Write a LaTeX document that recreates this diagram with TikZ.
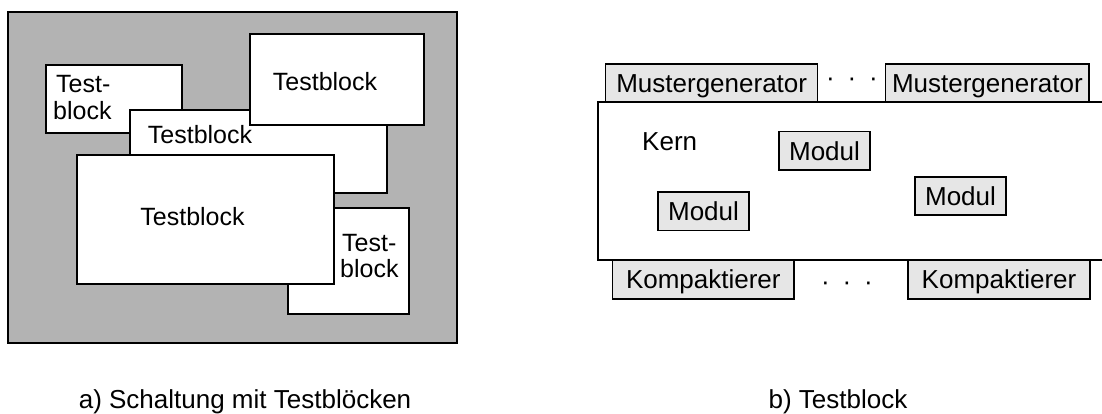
\documentclass[tikz,border=0pt]{standalone}
\usepackage{fontspec}
\setmainfont{Liberation Sans}
\definecolor{boardgray}{RGB}{179,179,179}
\definecolor{unitgray}{RGB}{230,230,230}
\begin{document}
\begin{tikzpicture}[x=1pt,y=-1pt,
  frame/.style={draw=black, line width=1.4pt, inner sep=0pt},
  blockbox/.style={frame, fill=white},
  unitbox/.style={frame, fill=unitgray, font=\fontsize{26}{28}\selectfont,
                  text height=18.5pt, text depth=0pt},
  lbl/.style={inner sep=0pt, font=\fontsize{25}{27}\selectfont},
  rlbl/.style={inner sep=0pt, font=\fontsize{26}{28}\selectfont}]
\useasboundingbox (0,0) rectangle (1102,413);
\clip (0,0) rectangle (1102,413);

% ---- a) board with overlapping test blocks ----
\node[frame, fill=boardgray, minimum width=449, minimum height=331] (board) at (232.5,177.5) {};
\node[blockbox, minimum width=136, minimum height=68]  (tl)  at (114,99) {};
\node[blockbox, minimum width=257, minimum height=83]  (mid) at (258.5,151.5) {};
\node[blockbox, minimum width=174, minimum height=91]  (tr)  at (337,79.5) {};
\node[blockbox, minimum width=121, minimum height=106] (lr)  at (348.5,261) {};
\node[blockbox, minimum width=257, minimum height=129] (big) at (205.5,219.5) {};

\node[lbl, anchor=base west] (tlA) at (56,92.7) {Test-};
\node[lbl, anchor=base west] (tlB) at (53,119) {block};
\node[lbl, anchor=base] (midT) at (200,143.3) {Testblock};
\node[lbl, anchor=base] (trT)  at (325,90.7) {Testblock};
\node[lbl, anchor=base] (bigT) at (192.5,225.7) {Testblock};
\node[lbl, anchor=base west] (lrA) at (342,251.7) {Test-};
\node[lbl, anchor=base west] (lrB) at (340,277.3) {block};

\node[rlbl, anchor=base] (capA) at (245,408) {a) Schaltung mit Testblöcken};

% ---- b) one test block: core with generators and compactors ----
\path[fill=white] (598,102) rectangle (1110,260);
\draw[line width=1.4pt] (1110,102) -- (598,102) -- (598,260) -- (1110,260);
\coordinate (kern) at (598,102);

\node[unitbox, minimum width=212, minimum height=38] (mg1) at (711.7,83) {Mustergenerator};
\node[unitbox, minimum width=203.3, minimum height=38] (mg2) at (987.4,83) {Mustergenerator};
\node[rlbl, anchor=base] (dotsT) at (852,86) {·\hspace{12.8pt}·\hspace{12.8pt}·};

\node[rlbl, anchor=base west] (kernT) at (642,150.7) {Kern};
\node[unitbox, minimum width=91, minimum height=38.3] (mod1) at (824.5,150.8) {Modul};
\node[unitbox, minimum width=91, minimum height=38.7] (mod2) at (703.5,211.3) {Modul};
\node[unitbox, minimum width=91, minimum height=38]   (mod3) at (960.5,196) {Modul};

\node[unitbox, minimum width=181.3, minimum height=39] (kp1) at (703.3,279.5) {Kompaktierer};
\node[unitbox, minimum width=182, minimum height=39]   (kp2) at (999,279.5) {Kompaktierer};
\node[rlbl, anchor=base] (dotsB) at (847,290) {·\hspace{12.8pt}·\hspace{12.8pt}·};

\node[rlbl, anchor=base] (capB) at (838,408) {b) Testblock};
\end{tikzpicture}
\end{document}
